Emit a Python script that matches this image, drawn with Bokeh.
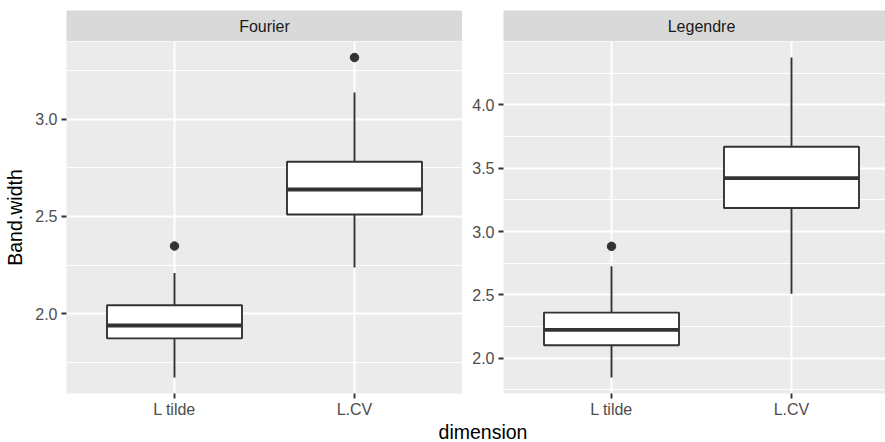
from bokeh.plotting import figure
from bokeh.models import Range1d, SingleIntervalTicker, PrintfTickFormatter, FixedTicker
from bokeh.layouts import row, column
from bokeh.core.properties import value
from bokeh.embed import file_html
from bokeh.resources import INLINE

# ---------------- data ----------------
categories = ["L tilde", "L.CV"]

fourier_lower = [1.673, 2.238]
fourier_q1 = [1.874, 2.510]
fourier_median = [1.940, 2.638]
fourier_q3 = [2.044, 2.781]
fourier_upper = [2.209, 3.136]
fourier_out_cat = ["L tilde", "L.CV"]
fourier_out_val = [2.348, 3.316]

legendre_lower = [1.848, 2.509]
legendre_q1 = [2.102, 3.186]
legendre_median = [2.224, 3.421]
legendre_q3 = [2.360, 3.669]
legendre_upper = [2.726, 4.373]
legendre_out_cat = ["L tilde"]
legendre_out_val = [2.883]

panel_titles = ["Fourier", "Legendre"]
y_title = "Band.width"
x_title = "dimension"

# ---------------- styling / layout ----------------
FONT = "Liberation Sans"
PANEL_BG = "#EBEBEB"
STRIP_BG = "#D9D9D9"
DARK = "#333333"
TICK_TXT = "#4D4D4D"

W1 = 396         # first panel frame width
W2 = 382         # second panel frame width (right side cut like the reference)
PX_PER_UNIT = W1 / 2.2
H = 353          # panel frame height
LEFT1 = 66
LEFT2 = 41
BOTTOM = 26
STRIP_H = 31
STRIP_TOP = 10
DIM_H = 22

pos = {c: i + 1 for i, c in enumerate(categories)}


def make_panel(lower, q1, med, q3, upper, out_cat, out_val, left, width, show_ylabel):
    lo = min(lower + out_val)
    hi = max(upper + out_val)
    pad = 0.05 * (hi - lo)
    x0 = 1 - 0.6
    p = figure(
        width=left + width, height=H + BOTTOM,
        x_range=Range1d(x0, x0 + width / PX_PER_UNIT),
        y_range=Range1d(lo - pad, hi + pad),
        output_backend="svg", toolbar_location=None, title=None,
        min_border_left=left, min_border_right=0,
        min_border_top=0, min_border_bottom=BOTTOM,
    )
    p.background_fill_color = PANEL_BG
    p.border_fill_color = "white"
    p.outline_line_color = None

    p.xaxis.ticker = FixedTicker(ticks=[pos[c] for c in categories])
    p.xaxis.major_label_overrides = {pos[c]: c for c in categories}
    p.yaxis.ticker = SingleIntervalTicker(interval=0.5, num_minor_ticks=2)
    p.yaxis.formatter = PrintfTickFormatter(format="%.1f")

    for ax in p.axis:
        ax.axis_line_color = None
        ax.major_tick_line_color = DARK
        ax.major_tick_line_width = 1.9
        ax.major_tick_in = 0
        ax.major_tick_out = 5
        ax.minor_tick_line_color = None
        ax.major_label_text_font = FONT
        ax.major_label_text_font_size = "16px"
        ax.major_label_text_color = TICK_TXT
    p.xaxis.major_label_standoff = 2
    p.yaxis.major_label_standoff = 4
    if show_ylabel:
        p.yaxis.axis_label = y_title
        p.yaxis.axis_label_text_font = FONT
        p.yaxis.axis_label_text_font_size = "19.5px"
        p.yaxis.axis_label_text_font_style = "normal"
        p.yaxis.axis_label_text_color = "black"
        p.yaxis.axis_label_standoff = 6

    p.xgrid.grid_line_color = "white"
    p.xgrid.grid_line_width = 1.9
    p.ygrid.grid_line_color = "white"
    p.ygrid.grid_line_width = 1.9
    p.ygrid.minor_grid_line_color = "white"
    p.ygrid.minor_grid_line_width = 0.95

    xs = [pos[c] for c in categories]
    p.segment(x0=xs, x1=xs, y0=q3, y1=upper, line_color=DARK, line_width=1.9)
    p.segment(x0=xs, x1=xs, y0=lower, y1=q1, line_color=DARK, line_width=1.9)
    p.vbar(x=xs, top=q3, bottom=q1, width=0.75, fill_color="white",
           line_color=DARK, line_width=1.9)
    p.rect(x=xs, y=med, width=0.75, height=3.9, height_units="screen",
           fill_color=DARK, line_color=None)
    p.scatter(x=[pos[c] for c in out_cat], y=out_val, size=8.5,
              fill_color=DARK, line_color=DARK)
    return p


def make_strip(label, left, width, ref_width):
    s = figure(
        width=left + width, height=STRIP_H + STRIP_TOP,
        x_range=Range1d(0, width), y_range=Range1d(0, 1),
        output_backend="svg", toolbar_location=None, title=None,
        min_border_left=left, min_border_right=0,
        min_border_top=STRIP_TOP, min_border_bottom=0,
        x_axis_type=None, y_axis_type=None,
    )
    s.background_fill_color = STRIP_BG
    s.border_fill_color = "white"
    s.outline_line_color = None
    s.grid.visible = False
    s.text(x=[ref_width / 2.0], y=[0.5], text=[label], text_align="center",
           text_baseline="middle", text_font=value(FONT), text_font_size="16px",
           text_color="#1A1A1A")
    return s


p1 = make_panel(fourier_lower, fourier_q1, fourier_median, fourier_q3, fourier_upper,
                fourier_out_cat, fourier_out_val, LEFT1, W1, True)
p2 = make_panel(legendre_lower, legendre_q1, legendre_median, legendre_q3, legendre_upper,
                legendre_out_cat, legendre_out_val, LEFT2, W2, False)
s1 = make_strip(panel_titles[0], LEFT1, W1, W1)
s2 = make_strip(panel_titles[1], LEFT2, W2, W1)

total_w = (LEFT1 + W1) + (LEFT2 + W2)
center_x = (LEFT1 + (LEFT1 + W1 + LEFT2 + W1)) / 2.0

b = figure(
    width=total_w, height=DIM_H,
    x_range=Range1d(0, total_w), y_range=Range1d(0, DIM_H),
    output_backend="svg", toolbar_location=None, title=None,
    min_border_left=0, min_border_right=0, min_border_top=0, min_border_bottom=0,
    x_axis_type=None, y_axis_type=None,
)
b.background_fill_color = "white"
b.border_fill_color = "white"
b.outline_line_color = None
b.grid.visible = False
b.text(x=[center_x], y=[DIM_H / 2.0], text=[x_title], text_align="center",
       text_baseline="middle", text_font=value(FONT), text_font_size="19.5px",
       text_color="black")

layout = column(row(column(s1, p1), column(s2, p2)), b)

open("out.html", "w").write(file_html(layout, INLINE))
